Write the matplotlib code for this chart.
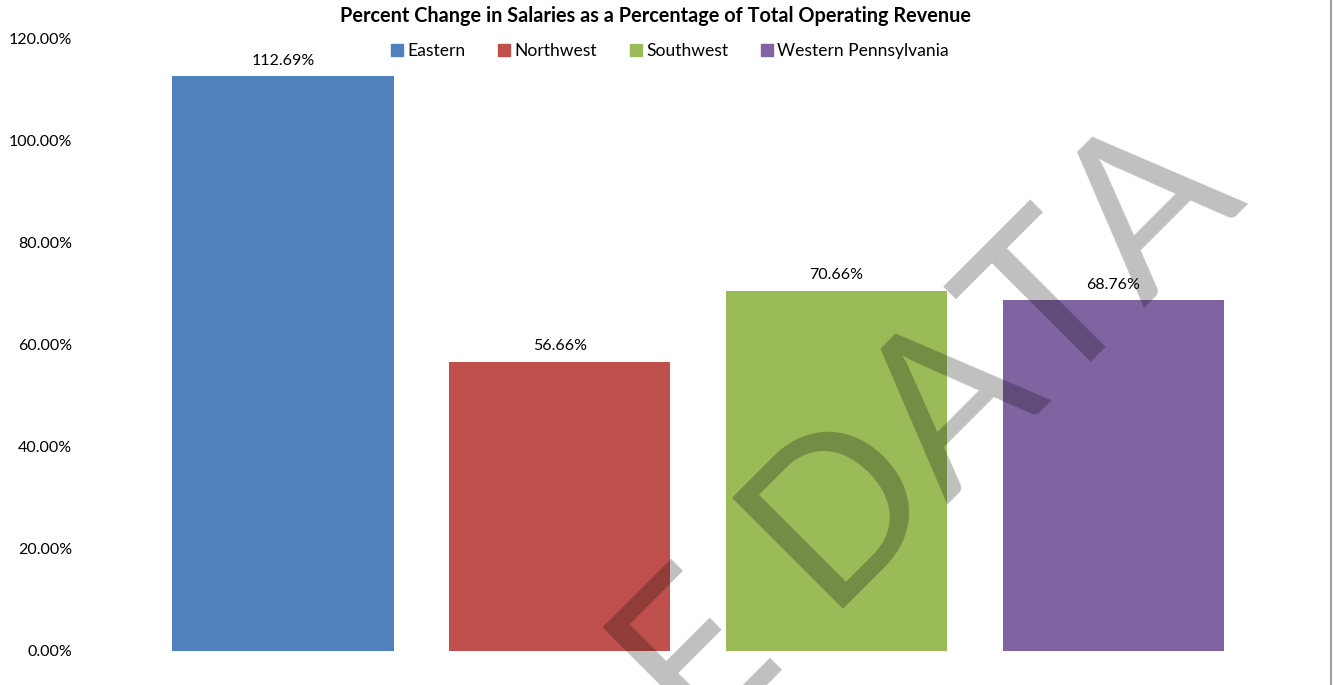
import matplotlib.pyplot as plt
from matplotlib.lines import Line2D

plt.rcParams['font.family'] = ['Lato', 'DejaVu Sans']

# regions and their percent change values
regions = ['Eastern', 'Northwest', 'Southwest', 'Western Pennsylvania']
pct_change = [112.69, 56.66, 70.66, 68.76]
colors = ['#4F81BD', '#C0504D', '#9BBB59', '#8064A2']
y_ticks = [0, 20, 40, 60, 80, 100, 120]

W, H = 1333, 685
fig = plt.figure(figsize=(W / 100, H / 100), dpi=100)
ax = fig.add_axes([80 / W, (H - 651) / H, (1316 - 80) / W, (651 - 39) / H])

xs = range(len(regions))
bars = ax.bar(xs, pct_change, width=0.8, color=colors, zorder=2)

# value labels above each bar
for x, v in zip(xs, pct_change):
    ax.annotate('%.2f%%' % v, (x, v), xytext=(0, 8.4), textcoords='offset points',
                ha='center', va='baseline', fontsize=11.5, color='black')

ax.set_xlim(-0.734, 3.733)
ax.set_ylim(0, 120)
ax.set_yticks(y_ticks)
ax.set_yticklabels(['%.2f%%' % t for t in y_ticks], fontsize=11.5)
ax.tick_params(axis='y', length=0, pad=5.8)
ax.set_xticks([])
for s in ax.spines.values():
    s.set_visible(False)

fig.text(656 / W, 1 - 16 / H, 'Percent Change in Salaries as a Percentage of Total Operating Revenue',
         ha='center', va='center', fontsize=14.3, fontweight='bold')

handles = [Line2D([], [], marker='s', linestyle='none', markersize=8,
                  markerfacecolor=c, markeredgecolor=c) for c in colors]
fig.legend(handles, regions, loc='center', bbox_to_anchor=(670 / W, 1 - 51 / H),
           ncol=4, frameon=False, fontsize=12.6, handlelength=0.7,
           handletextpad=0.25, columnspacing=1.85, borderpad=0)

# watermark across the plot
fig.text(1249 / W, 1 - 203 / H, 'SAMPLE DATA', rotation=45, rotation_mode='anchor',
         ha='right', va='baseline', fontsize=158, color='black', alpha=0.25, zorder=10)

# chart border on the right edge
fig.add_artist(Line2D([1331 / W, 1331 / W], [0, 1], color='#8c8c8c', linewidth=1.2))

fig.savefig('out.png', dpi=100)
